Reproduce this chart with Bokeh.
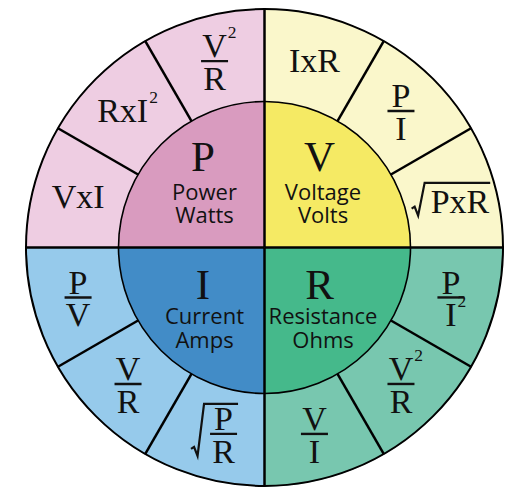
import math
from bokeh.plotting import figure
from bokeh.models import Range1d
from bokeh.core.properties import value
from bokeh.embed import file_html
from bokeh.resources import INLINE

# ---------------- data ----------------
# quadrants in counter-clockwise order starting at 0 deg (right)
quantities = ["V", "P", "I", "R"]
names = ["Voltage", "Power", "Current", "Resistance"]
units = ["Volts", "Watts", "Amps", "Ohms"]
inner_colors = ["#F5EA64", "#D99BBF", "#428CC7", "#45B98B"]
outer_colors = ["#FAF7CB", "#EECDE2", "#96CAEB", "#78C7AF"]
# formulas of each quadrant, counter-clockwise (3 sectors of 30 deg each)
formulas = [
    ["sqrt(PxR)", "P/I", "IxR"],
    ["V^2/R", "RxI^2", "VxI"],
    ["P/V", "V/R", "sqrt(P/R)"],
    ["V/I", "V^2/R", "P/I^2"],
]

# ---------------- geometry ----------------
W_PAGE, H_PAGE = 517, 488
CX, CY = 264, 247          # page position of wheel centre
R_OUT = 240
R_IN = 146
R_TXT = 193

SERIF = "Liberation Serif"
SANS = "Open Sans"
FS = 34
CAP = 0.685 * FS
SUP = 17.5
GW = {"I": 0.333, "x": 0.5, "R": 0.667, "P": 0.556, "V": 0.722, "2": 0.5}


def tw(t, fs=FS):
    return sum(GW[c] for c in t) * fs


p = figure(width=W_PAGE, height=H_PAGE, output_backend="svg", toolbar_location=None,
           x_range=Range1d(-CX, W_PAGE - CX), y_range=Range1d(CY - H_PAGE, CY),
           x_axis_location=None, y_axis_location=None, min_border=0,
           background_fill_color="white", border_fill_color="white")
p.grid.visible = False
p.outline_line_color = None

# sectors
q_start = [math.radians(90 * i) for i in range(4)]
q_end = [math.radians(90 * (i + 1)) for i in range(4)]
p.annular_wedge(x=0, y=0, inner_radius=R_IN, outer_radius=R_OUT - 1, start_angle=q_start,
                end_angle=q_end, fill_color=outer_colors, line_color=None)
p.wedge(x=0, y=0, radius=R_IN, start_angle=q_start, end_angle=q_end,
        fill_color=inner_colors, line_color=None)

# radial dividers
rad_x0, rad_y0, rad_x1, rad_y1 = [], [], [], []
for k in range(12):
    a = math.radians(30 * k)
    r0 = 0 if k % 3 == 0 else R_IN
    rad_x0.append(r0 * math.cos(a)); rad_y0.append(r0 * math.sin(a))
    rad_x1.append((R_OUT - 1) * math.cos(a)); rad_y1.append((R_OUT - 1) * math.sin(a))
p.segment(x0=rad_x0, y0=rad_y0, x1=rad_x1, y1=rad_y1, line_color="black", line_width=2.5)
p.circle(x=0, y=0, radius=R_IN, fill_color=None, line_color="black", line_width=1.6)
p.circle(x=0, y=0, radius=R_OUT - 1.5, fill_color=None, line_color="black", line_width=2)

# ---------------- formulas ----------------
T = {"x": [], "y": [], "t": [], "fs": [], "al": []}
bars = {"x0": [], "y0": [], "x1": [], "y1": []}
rads = {"xs": [], "ys": []}


def add_text(x, cap_c, t, fs, al="center"):
    # text is placed by the centre of its capitals
    T["x"].append(x); T["y"].append(cap_c + 0.02 * fs); T["t"].append(t)
    T["fs"].append("%.1fpx" % fs); T["al"].append(al)


def token_width(tok):
    if "^" in tok:
        b, e = tok.split("^")
        return tw(b) + 2 + tw(e, SUP)
    return tw(tok)


def draw_token(tok, cx, cap_c, centre_base=True):
    if "^" in tok:
        b, e = tok.split("^")
        if centre_base:
            bx = cx
        else:
            bx = cx - token_width(tok) / 2 + tw(b) / 2
        add_text(bx, cap_c, b, FS)
        add_text(bx + tw(b) / 2 + 1, cap_c + 13.5, e, SUP, "left")
    else:
        add_text(cx, cap_c, tok, FS)


def draw_fraction(num, den, cx, bar_y):
    half = 13.5
    bars["x0"].append(cx - half); bars["x1"].append(cx + half)
    bars["y0"].append(bar_y); bars["y1"].append(bar_y)
    draw_token(num, cx, bar_y + 14.5)
    draw_token(den, cx, bar_y - 18)


def draw_radical(L, yT, yB, Rt):
    rads["xs"].append([L - 19, L - 16, L - 12.5, L - 6, Rt + 1])
    rads["ys"].append([yB + 7, yB + 9, yB, yT, yT])


for qi in range(4):
    for si, f in enumerate(formulas[qi]):
        a = math.radians(90 * qi + 30 * si + 15)
        ax, ay = R_TXT * math.cos(a), R_TXT * math.sin(a)
        if f.startswith("sqrt("):
            body = f[5:-1]
            if "/" in body:
                num, den = body.split("/")
                W = 27
                L = ax - (W - 18) / 2
                draw_fraction(num, den, L + W / 2, ay)
                draw_radical(L, ay + 30, ay - 22, L + W)
            else:
                W = tw(body)
                L = ax - (W - 18) / 2
                cap_c = ay - 5
                add_text(L + W / 2, cap_c, body, FS)
                draw_radical(L, cap_c + CAP / 2 + 8, cap_c - CAP / 2 - 1.5, L + W)
        elif "/" in f:
            num, den = f.split("/")
            draw_fraction(num, den, ax, ay)
        else:
            draw_token(f, ax, ay, centre_base=False)

p.text(x=T["x"], y=T["y"], text=T["t"], text_font=value(SERIF), text_font_size=T["fs"],
       text_align=T["al"], text_baseline="middle", text_color="#111111")
p.segment(x0=bars["x0"], y0=bars["y0"], x1=bars["x1"], y1=bars["y1"],
          line_color="#111111", line_width=2.4)
p.multi_line(xs=rads["xs"], ys=rads["ys"], line_color="#111111", line_width=2.2,
             line_join="miter")

# ---------------- inner labels ----------------
LFS = 43
NFS = 22
lx, ly, lt = [], [], []
nx, ny, nt = [], [], []
for qi in range(4):
    a = math.radians(90 * qi + 45)
    right = math.cos(a) > 0
    upper = math.sin(a) > 0
    letter_x = (55 if right else -61.5)
    letter_c = (90 if upper else -37.5)
    lx.append(letter_x); ly.append(letter_c + 0.02 * LFS); lt.append(quantities[qi])
    label_x = (58.5 if right else -60)
    c1 = (56 if upper else -68.5)
    nx += [label_x, label_x]
    ny += [c1 + 0.04 * NFS, c1 - 23.5 + 0.04 * NFS]
    nt += [names[qi], units[qi]]

p.text(x=lx, y=ly, text=lt, text_font=value(SERIF), text_font_size=value("%dpx" % LFS),
       text_align="center", text_baseline="middle", text_color="#111111")
p.text(x=nx, y=ny, text=nt, text_font=value(SANS), text_font_size=value("%dpx" % NFS),
       text_align="center", text_baseline="middle", text_color="#111111")

open("out.html", "w").write(file_html(p, INLINE))
